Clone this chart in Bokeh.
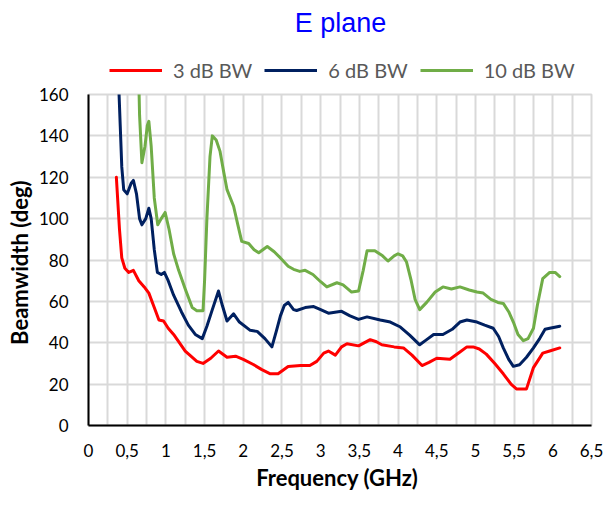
from bokeh.plotting import figure
from bokeh.layouts import column
from bokeh.models import FixedTicker, Legend, LegendItem, Label, Range1d
from bokeh.embed import file_html
from bokeh.resources import INLINE

# ---- data (frequency in GHz, beamwidth in deg) ----
f3 = [0.36, 0.40, 0.43, 0.47, 0.52, 0.58, 0.65, 0.72, 0.78, 0.85, 0.91, 0.97, 1.03, 1.10,
      1.25, 1.40, 1.48, 1.58, 1.68, 1.79, 1.90, 2.00, 2.13, 2.24, 2.35, 2.45, 2.58, 2.74,
      2.86, 2.95, 3.04, 3.10, 3.19, 3.27, 3.34, 3.49, 3.64, 3.72, 3.79, 3.95, 4.07, 4.18,
      4.31, 4.40, 4.50, 4.67, 4.80, 4.89, 4.97, 5.05, 5.14, 5.25, 5.36, 5.46, 5.53, 5.66,
      5.75, 5.87, 5.96, 6.09]
bw3 = [120, 95, 81, 76, 74, 75, 70, 67, 64, 57, 51, 50.5, 47, 44,
       36, 31, 30, 32.5, 36, 33, 33.5, 32, 29.5, 27, 25, 25, 28.5, 29,
       29, 31, 35, 36, 34, 38, 39.5, 38.5, 41.5, 40.5, 39, 38, 37.5, 34,
       29, 30.5, 32.5, 32, 35.5, 38, 38, 37, 34.5, 30, 25, 20, 17.7, 17.7,
       28, 35, 36, 37.5]

f6 = [0.385, 0.41, 0.43, 0.455, 0.50, 0.55, 0.58, 0.62, 0.66, 0.69, 0.74, 0.78, 0.81, 0.85,
      0.89, 0.94, 0.98, 1.03, 1.10, 1.20, 1.29, 1.38, 1.47, 1.53, 1.60, 1.68, 1.73, 1.79,
      1.875, 1.95, 2.09, 2.18, 2.28, 2.37, 2.43, 2.48, 2.53, 2.58, 2.65, 2.69, 2.80, 2.91,
      3.00, 3.10, 3.27, 3.38, 3.49, 3.60, 3.77, 3.90, 4.03, 4.15, 4.28, 4.37, 4.46, 4.58,
      4.70, 4.80, 4.89, 5.02, 5.12, 5.23, 5.30, 5.36, 5.43, 5.49, 5.57, 5.66, 5.75, 5.83,
      5.90, 5.96, 6.09]
bw6 = [170, 145, 125, 114, 112, 117, 118.5, 112, 100, 97, 100, 105, 100, 85,
       74, 73, 74, 70, 63, 55, 48.5, 44, 42, 48, 56, 65, 58, 50.5,
       54, 50, 46, 45.5, 42, 38, 46, 53, 58, 59.5, 56, 55.6, 57, 57.5,
       56, 54.3, 55.2, 53, 51.3, 52.5, 51, 50, 47.6, 43.7, 39, 41.5, 44, 44,
       46.5, 50, 51, 50, 48.5, 47, 43, 37.5, 32, 28.6, 29.4, 33, 37.5, 42,
       46.5, 47, 48]

f10 = [0.645, 0.66, 0.69, 0.73, 0.76, 0.78, 0.81, 0.85, 0.895, 0.94, 0.99, 1.04, 1.10, 1.165,
       1.25, 1.34, 1.40, 1.48, 1.50, 1.53, 1.57, 1.60, 1.65, 1.70, 1.75, 1.79, 1.875, 1.93,
       1.98, 2.07, 2.14, 2.20, 2.31, 2.40, 2.48, 2.58, 2.65, 2.73, 2.80, 2.90, 3.00, 3.08,
       3.21, 3.29, 3.40, 3.49, 3.55, 3.60, 3.70, 3.80, 3.87, 3.95, 4.00, 4.06, 4.11, 4.17,
       4.22, 4.28, 4.37, 4.48, 4.58, 4.69, 4.80, 4.92, 5.02, 5.10, 5.20, 5.29, 5.36, 5.43,
       5.49, 5.55, 5.62, 5.68, 5.75, 5.80, 5.87, 5.96, 6.03, 6.09]
bw10 = [175, 150, 127, 135, 145, 147, 135, 110, 97, 100, 103, 95, 83, 75,
        66, 57, 55.5, 55.5, 70, 100, 130, 140, 138, 132.5, 122, 114, 106, 97,
        89, 88, 85, 83.5, 86.5, 84, 81, 77, 75.5, 74.5, 75, 73, 69.5, 67,
        69, 68, 64.5, 65, 75, 84.5, 84.5, 82, 79.5, 82, 83, 82, 79, 70,
        61, 56, 59.5, 64.5, 67, 66, 67, 65.5, 64.5, 64, 61, 59.5, 59, 55,
        50, 44, 41, 42, 47, 58, 71, 74, 74, 72]

x_ticks = [0, 0.5, 1, 1.5, 2, 2.5, 3, 3.5, 4, 4.5, 5, 5.5, 6, 6.5]
x_tick_labels = ["0", "0,5", "1", "1,5", "2", "2,5", "3", "3,5", "4", "4,5", "5", "5,5", "6", "6,5"]
y_ticks = [0, 20, 40, 60, 80, 100, 120, 140, 160]
series_names = ["3 dB BW", "6 dB BW", "10 dB BW"]
colors = ["#FF0000", "#002060", "#70AD47"]
chart_title = "E plane"

FONT = "Lato"
GRID = "#D9D9D9"
W = 604
LEFT, RIGHT = 88, 13
HEAD_H = 83
MAIN_H = 414

xs_all = [f3, f6, f10]
ys_all = [bw3, bw6, bw10]

# ---------------- header: title + legend (frame aligned with the chart) ----------------
head = figure(width=W, height=HEAD_H, output_backend="svg", toolbar_location=None,
              x_range=Range1d(LEFT, W - RIGHT), y_range=Range1d(0, HEAD_H),
              x_axis_type=None, y_axis_type=None,
              min_border_left=LEFT, min_border_right=RIGHT, min_border_top=0, min_border_bottom=0)
head.outline_line_color = None
head.background_fill_color = "white"
head.border_fill_color = "white"

# hidden copies of the series, used only as legend swatches
legend_renderers = [head.line(xs, ys, line_color=c, line_width=3, visible=False)
                    for xs, ys, c in zip(xs_all, ys_all, colors)]
legend = Legend(items=[LegendItem(label=n, renderers=[r]) for n, r in zip(series_names, legend_renderers)],
                orientation="horizontal", location=(21, 1))
legend.label_text_font = FONT
legend.label_text_font_size = "20px"
legend.label_text_color = "#595959"
legend.glyph_width = 53
legend.glyph_height = 22
legend.label_height = 22
legend.label_standoff = 11
legend.spacing = 12
legend.padding = 0
legend.margin = 0
legend.border_line_color = None
legend.background_fill_alpha = 0
legend.inactive_fill_alpha = 0
head.add_layout(legend)

title = Label(x=340, y=61, text=chart_title, text_align="center", text_baseline="middle",
              text_font="Liberation Sans", text_font_size="27px", text_color="#0000FF")
head.add_layout(title)

# ---------------- main chart ----------------
p = figure(width=W, height=MAIN_H, output_backend="svg", toolbar_location=None,
           x_range=Range1d(0, 6.5), y_range=Range1d(0, 160),
           min_border_left=LEFT, min_border_right=RIGHT, min_border_top=11, min_border_bottom=72)
p.background_fill_color = "white"
p.border_fill_color = "white"
p.outline_line_color = GRID
p.outline_line_width = 2

for xs, ys, c in zip(xs_all, ys_all, colors):
    p.line(xs, ys, line_color=c, line_width=3, line_join="round", line_cap="round")

for ax in (p.xaxis[0], p.yaxis[0]):
    ax.axis_line_color = "black"
    ax.axis_line_width = 2
    ax.major_tick_line_color = None
    ax.minor_tick_line_color = None
    ax.major_tick_out = 0
    ax.major_tick_in = 0
    ax.minor_tick_out = 0
    ax.major_label_text_font = FONT
    ax.major_label_text_font_size = "17px"
    ax.major_label_text_color = "black"
    ax.axis_label_text_font = FONT
    ax.axis_label_text_font_size = "22px"
    ax.axis_label_text_font_style = "bold"
    ax.axis_label_text_color = "black"

p.xaxis.ticker = FixedTicker(ticks=x_ticks)
p.xaxis.major_label_overrides = {t: l for t, l in zip(x_ticks, x_tick_labels)}
p.xaxis.major_label_standoff = 18
p.xaxis.axis_label = "Frequency  (GHz)"
p.xaxis.axis_label_standoff = 4

p.yaxis.ticker = FixedTicker(ticks=y_ticks)
p.yaxis.major_label_standoff = 20
p.yaxis.axis_label = "Beamwidth  (deg)"
p.yaxis.axis_label_standoff = 3

p.xgrid.ticker = FixedTicker(ticks=[i * 0.25 for i in range(27)])
p.xgrid.grid_line_color = GRID
p.xgrid.grid_line_width = 2
p.ygrid.ticker = FixedTicker(ticks=y_ticks)
p.ygrid.grid_line_color = GRID
p.ygrid.grid_line_width = 2

layout = column(head, p, spacing=0)
open("out.html", "w").write(file_html(layout, INLINE))
